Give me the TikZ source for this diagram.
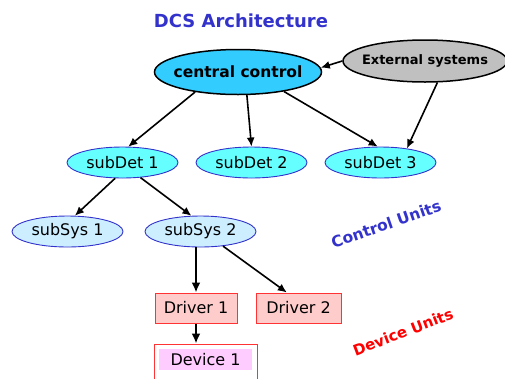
\documentclass[tikz,border=0pt]{standalone}
\usepackage{fontspec}
\setmainfont{DejaVu Sans}
\usetikzlibrary{shapes.geometric,arrows.meta}
\definecolor{ccfill}{RGB}{51,204,255}
\definecolor{detfill}{RGB}{102,255,255}
\definecolor{sysfill}{RGB}{204,238,255}
\definecolor{drvfill}{RGB}{255,204,204}
\definecolor{devfill}{RGB}{255,204,255}
\definecolor{extfill}{RGB}{192,192,192}
\definecolor{ublue}{RGB}{51,51,204}
\definecolor{ured}{RGB}{255,51,51}

\begin{document}
\begin{tikzpicture}[x=1pt,y=-1pt,
	big/.style={ellipse,draw=black,line width=1.5pt,inner xsep=-6pt,inner ysep=0pt},
	unit/.style={ellipse,draw=ublue,line width=0.9pt,minimum width=111pt,minimum height=31pt,inner sep=0pt,font=\fontsize{16}{19}\selectfont},
	drv/.style={rectangle,draw=ured,line width=1pt,fill=drvfill,minimum height=30pt,inner sep=0pt,font=\fontsize{16}{19}\selectfont},
	arr/.style={-{Latex[length=9pt,width=8pt]},line width=1.6pt},
	arrb/.style={-{Latex[length=10pt,width=9pt]},line width=2.4pt}]
	\useasboundingbox (0,0) rectangle (505,378);

	\node[text=ublue,font=\bfseries\fontsize{18}{21}\selectfont] (title) at (241,21) {DCS Architecture};

	\node[big,fill=ccfill,minimum width=167pt,minimum height=45pt,font=\bfseries\fontsize{15.5}{18}\selectfont] (cc) at (238,72) {central control};
	\node[big,fill=extfill,minimum width=164pt,minimum height=42pt,font=\bfseries\fontsize{13}{16}\selectfont] (ext) at (425,61) {External systems};

	\node[unit,fill=detfill] (sd1) at (122.5,162.5) {subDet 1};
	\node[unit,fill=detfill] (sd2) at (251.5,162.5) {subDet 2};
	\node[unit,fill=detfill] (sd3) at (380.5,162.5) {subDet 3};

	\node[unit,fill=sysfill] (ss1) at (67.5,231.5) {subSys 1};
	\node[unit,fill=sysfill] (ss2) at (200.5,231.5) {subSys 2};

	\node[drv,minimum width=82pt] (drv1) at (196,308) {Driver 1};
	\node[drv,minimum width=85pt] (drv2) at (298.5,308) {Driver 2};

	\node[rectangle,draw=ured,line width=1pt,fill=white,minimum width=103pt,minimum height=60pt] (dev1) at (205.5,374) {};
	\node[rectangle,fill=devfill,minimum width=93pt,minimum height=21pt,inner sep=0pt,font=\fontsize{16}{19}\selectfont] (dev1txt) at (205.5,359.5) {Device 1};

	\node[text=ublue,rotate=19,font=\bfseries\fontsize{15.5}{18}\selectfont] (ctrlunits) at (386,224) {Control Units};
	\node[text=red,rotate=21,font=\bfseries\fontsize{15}{18}\selectfont] (devunits) at (403,332) {Device Units};

	\draw[arr] (ext.180) -- (cc.3);
	\draw[arr] (cc.205) -- (sd1.70);
	\draw[arr] (cc.291) -- (sd2.north);
	\draw[arr] (cc.337) -- (sd3.100);
	\draw[arr] (ext.300) -- (sd3.28);
	\draw[arr] (sd1.245) -- (ss1.65);
	\draw[arr] (sd1.-40) -- (ss2.120);
	\draw[arrb] (drv1.north |- ss2.south) -- (drv1.north);
	\draw[arr] (ss2.-33) -- (drv2.127);
	\draw[arrb] (drv1.south) -- (drv1.south |- dev1.north);
\end{tikzpicture}
\end{document}
